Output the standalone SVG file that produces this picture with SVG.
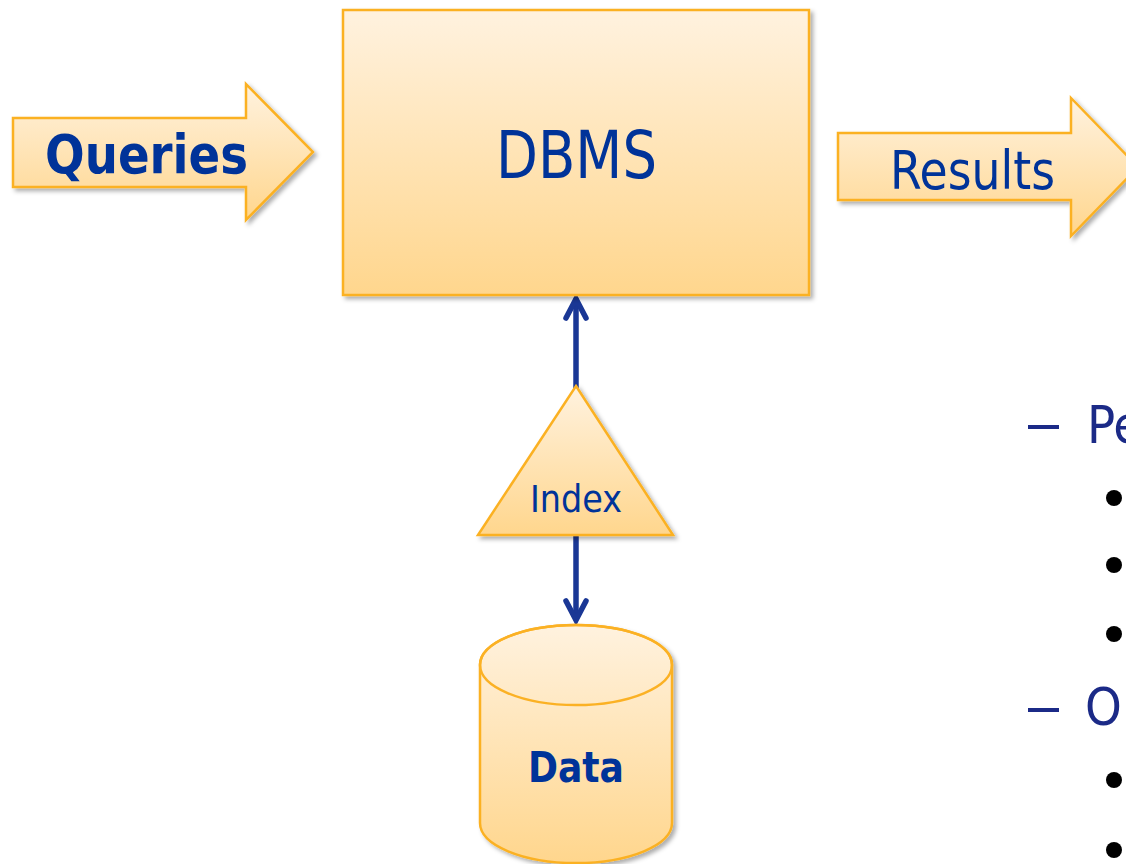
<svg xmlns="http://www.w3.org/2000/svg" width="1126" height="864" viewBox="0 0 1126 864">
  <defs>
    <linearGradient id="warm" x1="0" y1="0" x2="0" y2="1">
      <stop offset="0" stop-color="#fff2df"/>
      <stop offset="1" stop-color="#ffd68d"/>
    </linearGradient>
    <filter id="shadow" x="-10%" y="-10%" width="125%" height="125%">
      <feDropShadow dx="3" dy="3" stdDeviation="2.2" flood-color="#000" flood-opacity="0.32"/>
    </filter>
    <style>
      .shape { fill: url(#warm); stroke: #fbb124; stroke-width: 2.5; filter: url(#shadow); }
      .label { fill: #003399; font-family: "DejaVu Sans", Verdana, sans-serif; font-stretch: condensed; }
      .bold { font-weight: bold; }
      .link { fill: none; stroke: #1a3795; stroke-width: 5.5; stroke-linecap: round; stroke-linejoin: miter; }
      .outline { fill: #1b2a87; font-family: "DejaVu Sans", Verdana, sans-serif; font-stretch: condensed; }
    </style>
  </defs>

  <rect width="1126" height="864" fill="#ffffff"/>

  <!-- connectors: index to DBMS, index to data -->
  <g id="connectors">
    <line class="link" x1="576" y1="300" x2="576" y2="388"/>
    <polyline class="link" points="566,318 576,299 586,318"/>
    <line class="link" x1="576" y1="535" x2="576" y2="618"/>
    <polyline class="link" points="566,601 576,620 586,601"/>
  </g>

  <g id="queries">
    <path class="shape" d="M13,118 L246,118 L246,84 L313,152 L246,220 L246,187 L13,187 Z"/>
    <text class="label bold" x="45" y="173" font-size="53" textLength="203" lengthAdjust="spacingAndGlyphs">Queries</text>
  </g>

  <g id="dbms">
    <rect class="shape" x="343" y="10" width="466" height="285"/>
    <text class="label" x="496" y="178" font-size="65" textLength="161" lengthAdjust="spacingAndGlyphs">DBMS</text>
  </g>

  <g id="results">
    <path class="shape" d="M838,133 L1071,133 L1071,98 L1138,167 L1071,236 L1071,200 L838,200 Z"/>
    <text class="label" x="890" y="189" font-size="54" textLength="165" lengthAdjust="spacingAndGlyphs">Results</text>
  </g>

  <g id="index">
    <polygon class="shape" points="576,386 673,535 478,535"/>
    <text class="label" x="530" y="512" font-size="37" textLength="92" lengthAdjust="spacingAndGlyphs">Index</text>
  </g>

  <g id="data">
    <path class="shape" d="M480,665 L480,823 A96,40 0 0 0 672,823 L672,665 A96,40 0 0 0 480,665 Z"/>
    <ellipse cx="576" cy="665" rx="96" ry="40" fill="none" stroke="#fbb124" stroke-width="2.5"/>
    <text class="label bold" x="528" y="782" font-size="42" textLength="96" lengthAdjust="spacingAndGlyphs">Data</text>
  </g>

  <!-- outline list at the right edge -->
  <g id="outline">
    <rect x="1028" y="425" width="31" height="4" fill="#1b2a87"/>
    <text class="outline" x="1087" y="443" font-size="52">Pe</text>
    <circle cx="1114" cy="498" r="8" fill="#000"/>
    <circle cx="1114" cy="565" r="8" fill="#000"/>
    <circle cx="1114" cy="634" r="8" fill="#000"/>
    <rect x="1028" y="708" width="31" height="4" fill="#1b2a87"/>
    <text class="outline" x="1085" y="725" font-size="52">O</text>
    <circle cx="1114" cy="780" r="8" fill="#000"/>
    <circle cx="1114" cy="850" r="8" fill="#000"/>
  </g>
</svg>
